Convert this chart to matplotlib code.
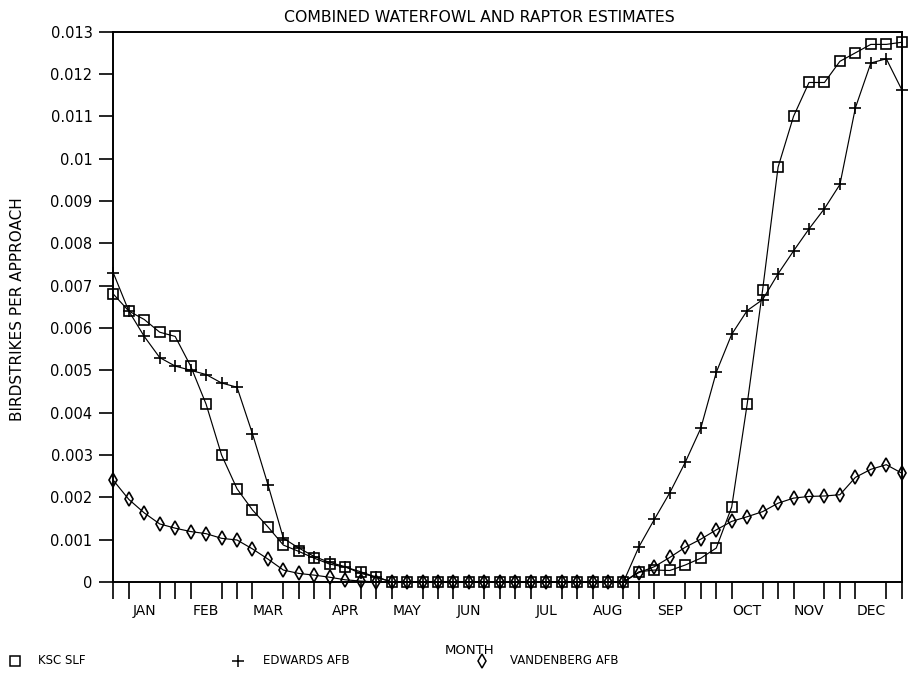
import numpy as np
import matplotlib.pyplot as plt
from matplotlib.lines import Line2D

# weekly birdstrike estimates, week 0 .. 51
weeks = np.arange(52)
zeros_summer = [0.0] * 16

ksc_slf = ([0.0068, 0.0064, 0.0062, 0.0059, 0.0058, 0.0051, 0.0042, 0.0030, 0.0022,
            0.0017, 0.0013, 0.00087, 0.00072, 0.00056, 0.00042, 0.00035, 0.00024, 0.00011]
           + zeros_summer
           + [0.00024, 0.00028, 0.00027, 0.0004, 0.00056, 0.0008, 0.00177, 0.0042, 0.0069,
              0.0098, 0.0110, 0.0118, 0.0118, 0.0123, 0.0125, 0.0127, 0.0127, 0.01275])

edwards_afb = ([0.0073, 0.0064, 0.0058, 0.0053, 0.0051, 0.0050, 0.0049, 0.0047, 0.0046,
                0.0035, 0.0023, 0.00103, 0.0008, 0.0006, 0.00046, 0.00036, 0.0002, 0.00012]
               + zeros_summer
               + [0.00083, 0.00148, 0.00211, 0.00283, 0.00363, 0.00495, 0.00585, 0.00641, 0.00667,
                  0.00728, 0.00782, 0.00834, 0.00882, 0.00939, 0.0112, 0.01226, 0.01236, 0.01163])

vandenberg_afb = ([0.0024, 0.00195, 0.00163, 0.00137, 0.00127, 0.00119, 0.00114, 0.00103, 0.00099,
                   0.00078, 0.00054, 0.00028, 0.0002, 0.00016, 0.00011, 0.00005, 0.00002, 0.0]
                  + zeros_summer
                  + [0.00022, 0.00036, 0.00058, 0.00082, 0.00101, 0.00123, 0.00143, 0.00154, 0.00166,
                     0.00186, 0.00198, 0.00202, 0.00203, 0.00206, 0.00247, 0.00266, 0.00277, 0.00257])

month_labels = ['JAN', 'FEB', 'MAR', 'APR', 'MAY', 'JUN', 'JUL', 'AUG', 'SEP', 'OCT', 'NOV', 'DEC']
month_weeks = [2, 6, 10, 15, 19, 23, 28, 32, 36, 41, 45, 49]
y_ticks = [i / 1000 for i in range(14)]
y_tick_labels = ['0'] + ['%g' % (i / 1000) for i in range(1, 14)]

series_names = ['KSC SLF', 'EDWARDS AFB', 'VANDENBERG AFB']
series_markers = [('s', 7, 'none'), ('+', 8.5, 'black'), ('d', 7, 'none')]

plt.rcParams['font.family'] = ['DejaVu Sans']
fig = plt.figure(figsize=(9.14, 6.83), dpi=100)
ax = fig.add_axes([0.124, 0.148, 0.8626, 0.8056])

for vals, (mk, ms, fc) in zip([ksc_slf, edwards_afb, vandenberg_afb], series_markers):
    ax.plot(weeks, vals, color='black', lw=0.85, marker=mk, ms=ms,
            mfc=fc if fc == 'none' else 'black', mec='black', mew=1.2, clip_on=False)

ax.set_xlim(0, 51)
ax.set_ylim(0, 0.013)
ax.set_yticks(y_ticks)
ax.set_yticklabels(y_tick_labels, fontsize=10.5)
ax.tick_params(axis='y', direction='out', length=10, width=1.2, pad=5)

ax.set_xticks(month_weeks)
ax.set_xticklabels(month_labels, fontsize=10)
ax.set_xticks(weeks, minor=True)
ax.tick_params(axis='x', which='major', length=0, pad=16)
ax.tick_params(axis='x', which='minor', direction='out', length=12, width=1.2)

for side in ['left', 'right', 'top', 'bottom']:
    ax.spines[side].set_linewidth(1.4)

fig.text(0.524, 0.975, 'COMBINED WATERFOWL AND RAPTOR ESTIMATES', ha='center', va='center', fontsize=11.3)
fig.text(0.019, 0.548, 'BIRDSTRIKES PER APPROACH', rotation=90, ha='center', va='center', fontsize=11)
fig.text(0.514, 0.048, 'MONTH', ha='center', va='center', fontsize=9.5)

# legend row below the month label
legend_marker_x = [15, 238, 482]
legend_text_x = [38, 263, 510]
legend_y = 1 - 661 / 683
for name, (mk, ms, fc), mx, tx in zip(series_names, series_markers, legend_marker_x, legend_text_x):
    fig.add_artist(Line2D([mx / 914], [legend_y], transform=fig.transFigure, marker=mk, ms=ms,
                          mfc=fc if fc == 'none' else 'black', mec='black', mew=1.1, ls='none'))
    fig.text(tx / 914, legend_y, name, ha='left', va='center', fontsize=8.5)

fig.savefig('out.png', dpi=100)
